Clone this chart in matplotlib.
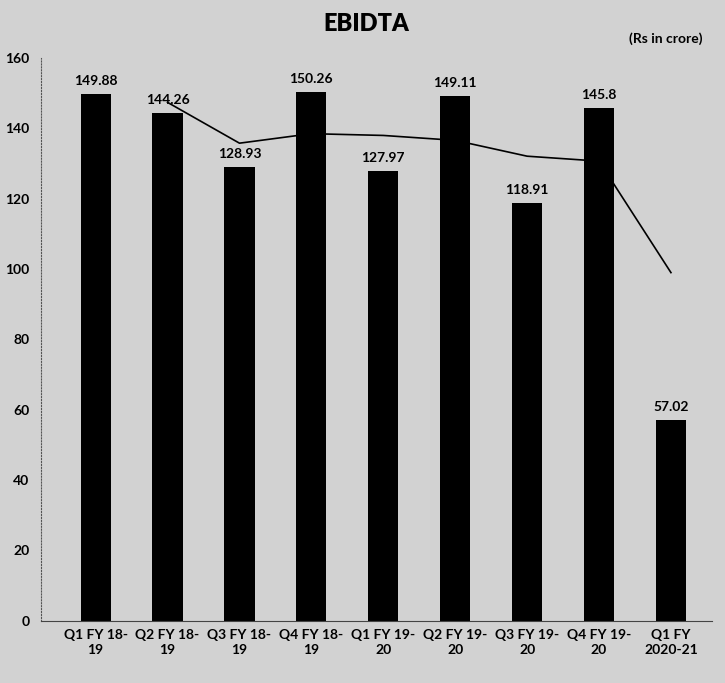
import numpy as np
import matplotlib.pyplot as plt

plt.rcParams['font.family'] = ['Lato', 'DejaVu Sans']

quarters = ["Q1 FY 18-\n19", "Q2 FY 18-\n19", "Q3 FY 18-\n19", "Q4 FY 18-\n19",
            "Q1 FY 19-\n20", "Q2 FY 19-\n20", "Q3 FY 19-\n20", "Q4 FY 19-\n20",
            "Q1 FY\n2020-21"]
ebidta = [149.88, 144.26, 128.93, 150.26, 127.97, 149.11, 118.91, 145.8, 57.02]
# trend line (starts at the 2nd quarter)
trend = [147.4, 135.8, 138.5, 138.0, 136.6, 132.1, 130.7, 99.0]

bg = "#d2d2d2"
fig = plt.figure(figsize=(7.25, 6.83), dpi=100, facecolor=bg)
ax = fig.add_axes([0.056, 0.091, 0.926, 0.824], facecolor=bg)

x = np.arange(len(quarters))
ax.bar(x, ebidta, width=0.42, color="black")
ax.plot(x[1:], trend, color="black", lw=1.2)

for xi, v in zip(x, ebidta):
    ax.annotate(f"{v:g}", (xi, v), xytext=(0, 5), textcoords="offset points",
                ha="center", va="bottom", fontsize=10, fontweight="bold")

ax.set_ylim(0, 160)
ax.set_xlim(-0.765, 8.57)
ax.set_yticks(range(0, 161, 20))
ax.set_xticks(x)
ax.set_xticklabels(quarters, fontsize=10, fontweight="bold", linespacing=1.3)
ax.tick_params(axis="y", labelsize=10, length=0, pad=8)
ax.tick_params(axis="x", length=0, pad=6)
for lbl in ax.get_yticklabels():
    lbl.set_fontweight("bold")

ax.spines["top"].set_visible(False)
ax.spines["right"].set_visible(False)
ax.spines["left"].set_color("#555555")
ax.spines["left"].set_linewidth(0.8)
ax.spines["left"].set_linestyle(":")
ax.spines["bottom"].set_color("#444444")
ax.spines["bottom"].set_linewidth(0.8)

fig.text(0.505, 0.965, "EBIDTA", ha="center", va="center",
         fontsize=17, fontweight="heavy")
fig.text(0.918, 0.944, "(Rs in crore)", ha="center", va="center",
         fontsize=10, fontweight="bold")

fig.savefig("out.png", dpi=100, facecolor=bg)
